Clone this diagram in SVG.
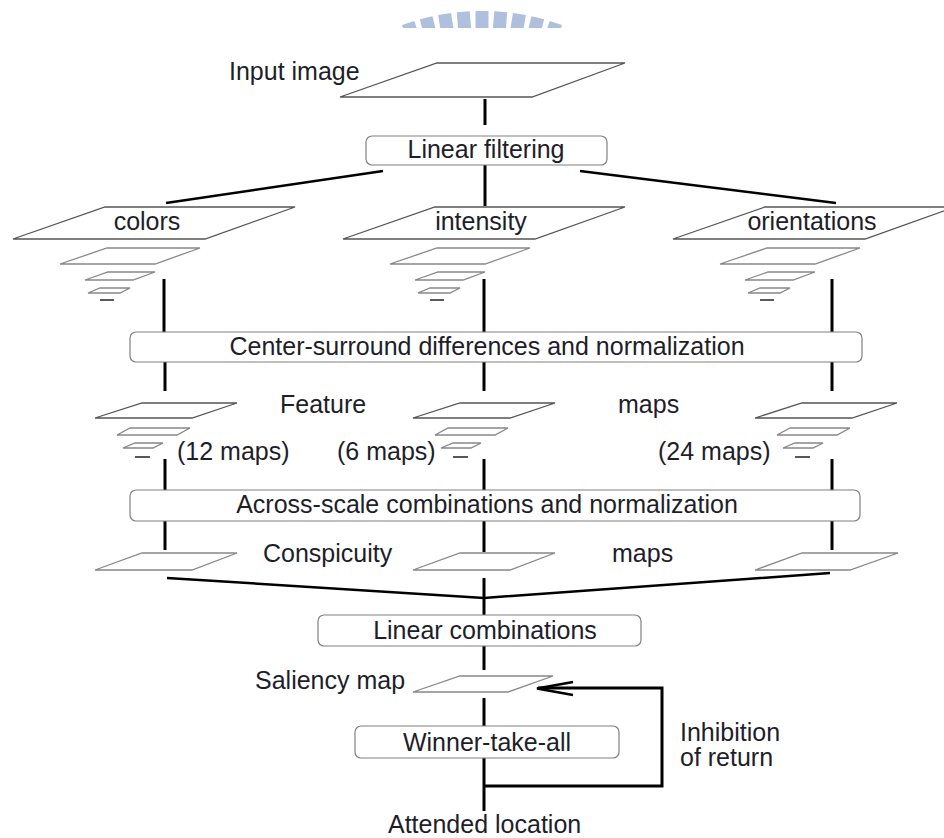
<svg xmlns="http://www.w3.org/2000/svg" width="944" height="838" viewBox="0 0 944 838">
<defs>
<style>
text{font-family:"Liberation Sans",Arial,sans-serif;font-size:25px;fill:#1e1e2a}
.c{text-anchor:middle}
.box{fill:#fff;stroke:#808080;stroke-width:1.2}
.pg{fill:#fff;stroke:#555;stroke-width:1.3}
.pg2{fill:#fff;stroke:#888;stroke-width:1.3}
.ln{stroke:#000;stroke-width:3;fill:none}
.dl{stroke:#000;stroke-width:2.5;fill:none}
.wm{fill:#afc0de}
</style>
<clipPath id="wmclip"><rect x="380" y="0" width="200" height="28"/></clipPath>
<g id="stack">
<polygon class="pg" points="105,207 295,207 205,239 13,239"/>
<polygon class="pg2" points="107,248 200,248 155,264 60,264"/>
<polygon class="pg2" points="108,272 155,272 133,280 85,280"/>
<polygon class="pg2" points="100,288 130,288 120,293 88,293"/>
<line x1="100" y1="300" x2="114" y2="300" stroke="#222" stroke-width="1.5"/>
</g>
<g id="fstack">
<polygon class="pg" points="142,403 237,403 192,418 95,418"/>
<polygon class="pg2" points="130,428 190,428 177,435 117,435"/>
<polygon class="pg2" points="135,443 163,443 153,448 123,448"/>
<line x1="135" y1="457" x2="150" y2="457" stroke="#222" stroke-width="1.5"/>
</g>
</defs>
<rect width="944" height="838" fill="#fff"/>

<g id="watermark" clip-path="url(#wmclip)">
<g transform="translate(482,245)">
<rect class="wm" x="-6.5" y="-234" width="13" height="40" transform="rotate(-18.4)"/>
<rect class="wm" x="-6.5" y="-234" width="13" height="40" transform="rotate(-13.8)"/>
<rect class="wm" x="-6.5" y="-234" width="13" height="40" transform="rotate(-9.2)"/>
<rect class="wm" x="-6.5" y="-234" width="13" height="40" transform="rotate(-4.6)"/>
<rect class="wm" x="-6.5" y="-234" width="13" height="40"/>
<rect class="wm" x="-6.5" y="-234" width="13" height="40" transform="rotate(4.6)"/>
<rect class="wm" x="-6.5" y="-234" width="13" height="40" transform="rotate(9.2)"/>
<rect class="wm" x="-6.5" y="-234" width="13" height="40" transform="rotate(13.8)"/>
<rect class="wm" x="-6.5" y="-234" width="13" height="40" transform="rotate(18.4)"/>
</g>
</g>

<g id="connectors">
<line class="ln" x1="485" y1="99" x2="485" y2="125"/>
<line class="ln" x1="485" y1="165" x2="485" y2="206"/>
<line class="dl" x1="383" y1="171" x2="166" y2="203"/>
<line class="dl" x1="580" y1="171" x2="836" y2="203"/>
<line class="ln" x1="164" y1="279" x2="164" y2="333"/>
<line class="ln" x1="484" y1="279" x2="484" y2="333"/>
<line class="ln" x1="832" y1="279" x2="832" y2="333"/>
<line class="ln" x1="165" y1="362" x2="165" y2="391"/>
<line class="ln" x1="484" y1="362" x2="484" y2="391"/>
<line class="ln" x1="832" y1="362" x2="832" y2="391"/>
<line class="ln" x1="165" y1="459" x2="165" y2="491"/>
<line class="ln" x1="484" y1="459" x2="484" y2="491"/>
<line class="ln" x1="832" y1="459" x2="832" y2="491"/>
<line class="ln" x1="165" y1="521" x2="165" y2="550"/>
<line class="ln" x1="484" y1="521" x2="484" y2="552"/>
<line class="ln" x1="832" y1="521" x2="832" y2="550"/>
<line class="ln" x1="484" y1="578" x2="484" y2="616"/>
<polyline class="dl" points="167,578 484,598 830,573"/>
<line class="ln" x1="484" y1="646" x2="484" y2="670"/>
<line class="ln" x1="484" y1="698" x2="484" y2="727"/>
<line class="ln" x1="484" y1="758" x2="484" y2="811"/>
<polyline class="ln" points="484,786 662,786 662,688 538,688"/>
<polyline fill="none" stroke="#000" stroke-width="2.5" points="573,682 537,688.5 573,695"/>
</g>

<g id="input-image">
<polygon class="pg" points="437,63 625,63 532,97 340,97"/>
<text x="229" y="80">Input image</text>
</g>

<g id="linear-filtering">
<rect class="box" x="366" y="136" width="241" height="29" rx="6"/>
<text class="c" x="486" y="158">Linear filtering</text>
</g>

<g id="colors">
<use href="#stack"/>
<text class="c" x="147" y="230">colors</text>
</g>
<g id="intensity">
<use href="#stack" x="330"/>
<text class="c" x="481" y="230">intensity</text>
</g>
<g id="orientations">
<use href="#stack" x="660"/>
<text class="c" x="812" y="230">orientations</text>
</g>

<g id="center-surround">
<rect class="box" x="130" y="332" width="732" height="30" rx="6"/>
<text class="c" x="487" y="355">Center-surround differences and normalization</text>
</g>

<g id="feature-maps">
<use href="#fstack"/>
<use href="#fstack" x="318"/>
<use href="#fstack" x="660"/>
<text x="280" y="413">Feature</text>
<text x="618" y="413">maps</text>
<text x="177" y="460">(12 maps)</text>
<text x="337" y="460">(6 maps)</text>
<text x="658" y="460">(24 maps)</text>
</g>

<g id="across-scale">
<rect class="box" x="130" y="490" width="730" height="31" rx="6"/>
<text class="c" x="487" y="513">Across-scale combinations and normalization</text>
</g>

<g id="conspicuity-maps">
<polygon class="pg2" points="142,553 237,553 192,570 95,570"/>
<polygon class="pg2" points="460,553 555,553 510,570 413,570"/>
<polygon class="pg2" points="802,553 898,553 850,570 755,570"/>
<text x="263" y="562">Conspicuity</text>
<text x="612" y="562">maps</text>
</g>

<g id="linear-combinations">
<rect class="box" x="318" y="615" width="323" height="31" rx="6"/>
<text class="c" x="485" y="639">Linear combinations</text>
</g>

<g id="saliency-map">
<polygon class="pg2" points="460,676 553,676 508,692 413,692"/>
<text x="255" y="689">Saliency map</text>
</g>

<g id="winner-take-all">
<rect class="box" x="355" y="726" width="264" height="32" rx="6"/>
<text class="c" x="487" y="751">Winner-take-all</text>
</g>

<g id="inhibition-label">
<text x="680" y="741">Inhibition</text>
<text x="680" y="766">of return</text>
</g>

<g id="attended-location">
<text x="388" y="833">Attended location</text>
</g>
</svg>
